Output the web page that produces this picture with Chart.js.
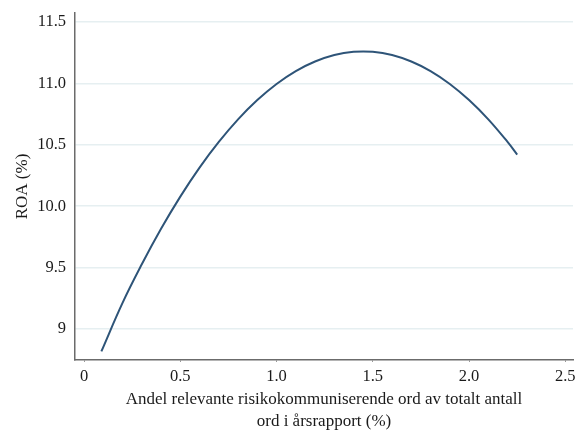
<!DOCTYPE html>
<html>
<head>
<meta charset="utf-8">
<script src="https://cdn.jsdelivr.net/npm/chart.js@4.4.1/dist/chart.umd.min.js"></script>
<style>
    html, body { margin: 0; padding: 0; background: #fff; }
    #wrap { width: 581px; height: 430px; }
</style>
</head>
<body>
<div id="wrap"><canvas id="roaChart" width="581" height="430"></canvas></div>
<script>
// Andel risikoord (%) og predikert ROA (%)
const andel = [0.09, 0.2, 0.3, 0.4, 0.5, 0.6, 0.7, 0.8, 0.9, 1.0, 1.1, 1.2, 1.3, 1.4, 1.5, 1.6, 1.7, 1.8, 1.9, 2.0, 2.1, 2.2, 2.25];
const roa   = [8.818, 9.213, 9.527, 9.816, 10.078, 10.314, 10.523, 10.707, 10.864, 10.995, 11.100, 11.178, 11.231, 11.257, 11.257, 11.231, 11.178, 11.100, 10.995, 10.864, 10.707, 10.523, 10.420];

const xTicks = [0, 0.5, 1.0, 1.5, 2.0, 2.5];
const yTicks = [9, 9.5, 10.0, 10.5, 11.0, 11.5];

const serif = "'Liberation Serif', 'Times New Roman', serif";

const points = andel.map((x, i) => ({ x: x, y: roa[i] }));

const ctx = document.getElementById('roaChart').getContext('2d');
new Chart(ctx, {
    type: 'line',
    data: {
        datasets: [{
            data: points,
            borderColor: '#2e5478',
            borderWidth: 2,
            pointRadius: 0,
            fill: false,
            tension: 0.4
        }]
    },
    options: {
        responsive: false,
        animation: false,
        layout: { padding: { top: 13, right: 8, left: 0, bottom: 0 } },
        plugins: {
            legend: { display: false },
            tooltip: { enabled: false }
        },
        scales: {
            x: {
                type: 'linear',
                min: -0.047,
                max: 2.54,
                afterBuildTicks: scale => { scale.ticks = xTicks.map(v => ({ value: v })); },
                afterFit: scale => { scale.height = 70; },
                grid: {
                    drawOnChartArea: false,
                    drawTicks: true,
                    tickLength: 2,
                    color: '#999'
                },
                border: { display: true, color: '#6b6b6b', width: 1.5 },
                ticks: {
                    color: '#1a1a1a',
                    padding: 5,
                    maxRotation: 0,
                    font: { family: serif, size: 16.5 },
                    callback: v => v === 0 ? '0' : v.toFixed(1)
                },
                title: {
                    display: true,
                    text: ['Andel relevante risikokommuniserende ord av totalt antall', 'ord i årsrapport (%)'],
                    color: '#1a1a1a',
                    font: { family: serif, size: 17, lineHeight: 1.3 },
                    padding: { top: 8, bottom: -3 }
                }
            },
            y: {
                type: 'linear',
                min: 8.748,
                max: 11.573,
                afterBuildTicks: scale => { scale.ticks = yTicks.map(v => ({ value: v })); },
                afterFit: scale => {
                    scale.width = 75;
                    // let the top label overhang instead of shrinking the plot
                    scale.paddingTop = 0;
                    scale.paddingBottom = 0;
                },
                grid: {
                    color: '#e6eff1',
                    lineWidth: 1.5,
                    drawTicks: false
                },
                border: { display: true, color: '#6b6b6b', width: 1.5 },
                ticks: {
                    color: '#1a1a1a',
                    padding: 9,
                    font: { family: serif, size: 16.5 },
                    callback: v => v === 9 ? '9' : v.toFixed(1)
                },
                title: {
                    display: true,
                    text: 'ROA (%)',
                    color: '#1a1a1a',
                    font: { family: serif, size: 17 },
                    padding: { top: 12, bottom: 0 }
                }
            }
        }
    }
});
</script>
</body>
</html>
